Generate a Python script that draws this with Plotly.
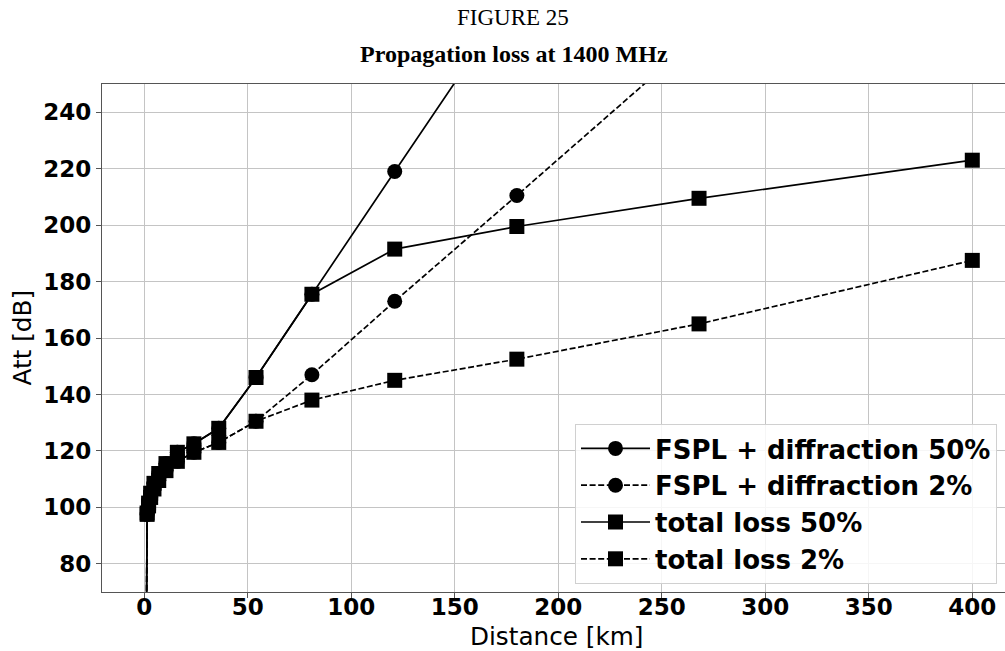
import plotly.graph_objects as go

# Distances (km)
dist = [0.9, 1.4, 2.1, 3.1, 4.7, 7, 10.5, 16, 24, 36, 54, 81, 121, 180, 268, 400]

# total loss (dB)
total_50 = [40, 98, 101.5, 105, 108.5, 112, 115.5, 119.5, 122.5, 128, 146, 175.5, 191.5, 199.5, 209.5, 223]
total_2 = [40, 97.5, 100.5, 103.5, 106.5, 109.5, 113, 116.3, 119.5, 123, 130.5, 138, 145, 152.5, 165, 187.5]

# FSPL + diffraction (dB); last points leave the visible range
fspl_dist_50 = [0.9, 1.4, 2.1, 3.1, 4.7, 7, 10.5, 16, 24, 36, 54, 81, 121, 180]
fspl_50 = [40, 98, 101.5, 105, 108.5, 112, 115.5, 119.5, 122.5, 128, 146, 175.5, 219, 283]
fspl_dist_2 = [0.9, 1.4, 2.1, 3.1, 4.7, 7, 10.5, 16, 24, 36, 54, 81, 121, 180, 268]
fspl_2 = [40, 97.5, 100.5, 103.5, 106.5, 109.5, 113, 116.3, 119.5, 123, 130.5, 147, 173, 210.5, 267]

y_ticks = [80, 100, 120, 140, 160, 180, 200, 220, 240]
x_ticks = [0, 50, 100, 150, 200, 250, 300, 350, 400]

series = [
    ("FSPL + diffraction 50%", fspl_dist_50, fspl_50, "solid", "circle"),
    ("FSPL + diffraction 2%", fspl_dist_2, fspl_2, "6px,2.6px", "circle"),
    ("total loss 50%", dist, total_50, "solid", "square"),
    ("total loss 2%", dist, total_2, "6px,2.6px", "square"),
]

fig = go.Figure()
for name, xs, ys, dash, sym in series:
    fig.add_trace(go.Scatter(
        x=xs, y=ys, name=name, mode="lines+markers",
        line=dict(color="black", width=1.7, dash=dash),
        marker=dict(symbol=sym, size=15, color="black"),
    ))

W, H = 1005, 651
L, T, R = 102, 84, 0
B = H - 592
pw, ph = W - L - R, H - T - B

def px_x(p):
    return (p - L) / pw

def px_y(p):
    return (H - B - p) / ph

tick_font = dict(family="DejaVu Sans", size=23, color="black", weight="bold")

fig.update_layout(
    width=W, height=H,
    margin=dict(l=L, r=R, t=T, b=B, autoexpand=False),
    paper_bgcolor="white", plot_bgcolor="white",
    showlegend=True,
    legend=dict(
        x=px_x(575), y=px_y(424), xanchor="left", yanchor="top",
        font=dict(family="DejaVu Sans", size=26, color="black", weight="bold"),
        bgcolor="rgba(255,255,255,0.85)", bordercolor="#d0d0d0", borderwidth=1,
        itemwidth=69,
    ),
    xaxis=dict(
        range=[-20.4, 415.8], tickvals=x_ticks, ticktext=[str(v) for v in x_ticks],
        showgrid=True, gridcolor="#c4c4c4", gridwidth=1,
        showline=True, linecolor="#555555", linewidth=1.3, mirror=True,
        ticks="outside", ticklen=5, tickcolor="#555555",
        tickfont=tick_font, zeroline=False, ticklabelstandoff=-11,
    ),
    yaxis=dict(
        range=[70, 250], tickvals=y_ticks, ticktext=[str(v) for v in y_ticks],
        showgrid=True, gridcolor="#c4c4c4", gridwidth=1,
        showline=True, linecolor="#555555", linewidth=1.3, mirror=False,
        ticks="outside", ticklen=5, tickcolor="#555555",
        tickfont=tick_font, zeroline=False,
    ),
)

annos = [
    dict(text="FIGURE 25", x=px_x(512.5), y=px_y(17),
         font=dict(family="Liberation Serif", size=23, color="black")),
    dict(text="<b>Propagation loss at 1400 MHz</b>", x=px_x(514), y=px_y(54),
         font=dict(family="Liberation Serif", size=24, color="black")),
    dict(text="Distance [km]", x=px_x(556.5), y=px_y(636),
         font=dict(family="DejaVu Sans", size=24.7, color="black")),
    dict(text="Att [dB]", x=px_x(22), y=px_y(337.5), textangle=-90,
         font=dict(family="DejaVu Sans", size=24.7, color="black")),
]
for a in annos:
    fig.add_annotation(xref="paper", yref="paper", xanchor="center", yanchor="middle",
                       showarrow=False, **a)

# remove the default 8px page margin so the 1005x651 figure fills the window
fig.write_html("out.html", config={"displayModeBar": False},
               post_script="document.body.style.margin='0px';")
